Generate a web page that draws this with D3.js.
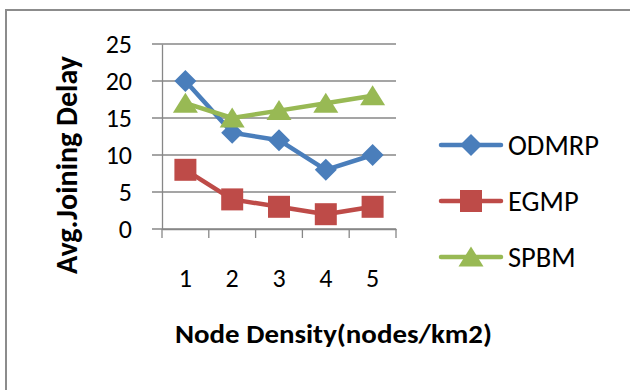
<!DOCTYPE html>
<html>
<head>
<meta charset="utf-8">
<script src="https://cdn.jsdelivr.net/npm/d3@7"></script>
<style>
  body { margin: 0; background: #fff; }
  svg text { font-family: Carlito, Calibri, Lato, sans-serif; fill: #000; }
</style>
</head>
<body>
<div id="chart"></div>
<script>
'use strict';

// values
let categories = ["1", "2", "3", "4", "5"];
let odmrpValues = [20, 13, 12, 8, 10];
let egmpValues = [8, 4, 3, 2, 3];
let spbmValues = [17, 15, 16, 17, 18];
let yTicks = [0, 5, 10, 15, 20, 25];
let seriesNames = ["ODMRP", "EGMP", "SPBM"];

const width = 630, height = 390;
const plotLeft = 162, plotRight = 396, plotTop = 44, plotBottom = 229;

let series = [
    {name: seriesNames[0], values: odmrpValues, color: "#4A7EBB", marker: "diamond"},
    {name: seriesNames[1], values: egmpValues, color: "#BE4B48", marker: "square"},
    {name: seriesNames[2], values: spbmValues, color: "#98B954", marker: "triangle"}];

let svg = d3.select("#chart").append("svg")
    .attr("width", width)
    .attr("height", height);

// outer frame (right and bottom edges run off the picture)
svg.append("rect")
    .attr("x", 6).attr("y", 10)
    .attr("width", 640).attr("height", 400)
    .attr("fill", "none")
    .attr("stroke", "#8c8c8c")
    .attr("stroke-width", 2);

let x = d3.scaleBand().domain(categories).range([plotLeft, plotRight]);
let y = d3.scaleLinear().domain([0, 25]).range([plotBottom, plotTop]);

// gridlines + y ticks
svg.append("g").selectAll("line")
    .data(yTicks)
    .enter()
    .append("line")
    .attr("x1", plotLeft - 10).attr("x2", plotRight)
    .attr("y1", d => y(d)).attr("y2", d => y(d))
    .attr("stroke", "#878787")
    .attr("stroke-width", 1.3);

svg.append("g").selectAll("text")
    .data(yTicks)
    .enter()
    .append("text")
    .text(d => d)
    .attr("x", plotLeft - 30)
    .attr("y", d => y(d))
    .attr("dy", "0.35em")
    .attr("text-anchor", "end")
    .attr("font-size", 26);

// axes
let yAxis = svg.append("g")
    .attr("transform", `translate(${plotLeft},0)`)
    .call(d3.axisLeft(y).tickValues([]).tickSizeOuter(0));
let xAxis = svg.append("g")
    .attr("transform", `translate(0,${plotBottom})`)
    .call(d3.axisBottom(x).tickSize(0).tickFormat(""));
[yAxis, xAxis].forEach(a => a.select(".domain").attr("stroke", "#878787").attr("stroke-width", 1.3));

// x tick marks at band edges
let edges = categories.map(c => x(c)).concat([plotRight]);
svg.append("g").selectAll("line")
    .data(edges)
    .enter()
    .append("line")
    .attr("x1", d => d).attr("x2", d => d)
    .attr("y1", plotBottom).attr("y2", plotBottom + 9)
    .attr("stroke", "#878787")
    .attr("stroke-width", 1.3);

svg.append("g").selectAll("text")
    .data(categories)
    .enter()
    .append("text")
    .text(d => d)
    .attr("x", d => x(d) + x.bandwidth() / 2)
    .attr("y", 278)
    .attr("dy", "0.35em")
    .attr("text-anchor", "middle")
    .attr("font-size", 26);

// axis titles
svg.append("text")
    .text("Avg.Joining Delay")
    .attr("transform", "translate(77,165) rotate(-90)")
    .attr("text-anchor", "middle")
    .attr("font-weight", "bold")
    .attr("font-size", 30);

svg.append("text")
    .text("Node Density(nodes/km2)")
    .attr("x", 175)
    .attr("y", 343)
    .attr("textLength", 317)
    .attr("lengthAdjust", "spacingAndGlyphs")
    .attr("font-weight", "bold")
    .attr("font-size", 25.5);

function markerPath(kind) {
    if (kind === "diamond") return "M0,-11L11,0L0,11L-11,0Z";
    if (kind === "square") return "M-11,-11H11V11H-11Z";
    return "M0,-10.5L12.5,9.5H-12.5Z";
}

let line = d3.line()
    .x((d, i) => x(categories[i]) + x.bandwidth() / 2)
    .y(d => y(d));

series.forEach(s => {
    let g = svg.append("g");
    g.append("path")
        .attr("d", line(s.values))
        .attr("fill", "none")
        .attr("stroke", s.color)
        .attr("stroke-width", 4.5)
        .attr("stroke-linejoin", "round")
        .attr("stroke-linecap", "round");
    g.selectAll("path.mark")
        .data(s.values)
        .enter()
        .append("path")
        .attr("class", "mark")
        .attr("d", markerPath(s.marker))
        .attr("transform", (d, i) => `translate(${x(categories[i]) + x.bandwidth() / 2},${y(d)})`)
        .attr("fill", s.color);
});

// legend
let legend = svg.append("g").selectAll("g")
    .data(series)
    .enter()
    .append("g")
    .attr("transform", (d, i) => `translate(0,${145 + i * 56})`);
legend.append("line")
    .attr("x1", 441).attr("x2", 501)
    .attr("stroke", d => d.color)
    .attr("stroke-width", 4.5)
    .attr("stroke-linecap", "round");
legend.append("path")
    .attr("d", d => markerPath(d.marker))
    .attr("transform", "translate(471,0)")
    .attr("fill", d => d.color);
legend.append("text")
    .text(d => d.name)
    .attr("x", 508)
    .attr("dy", "0.35em")
    .attr("font-size", 28.5);
</script>
</body>
</html>
